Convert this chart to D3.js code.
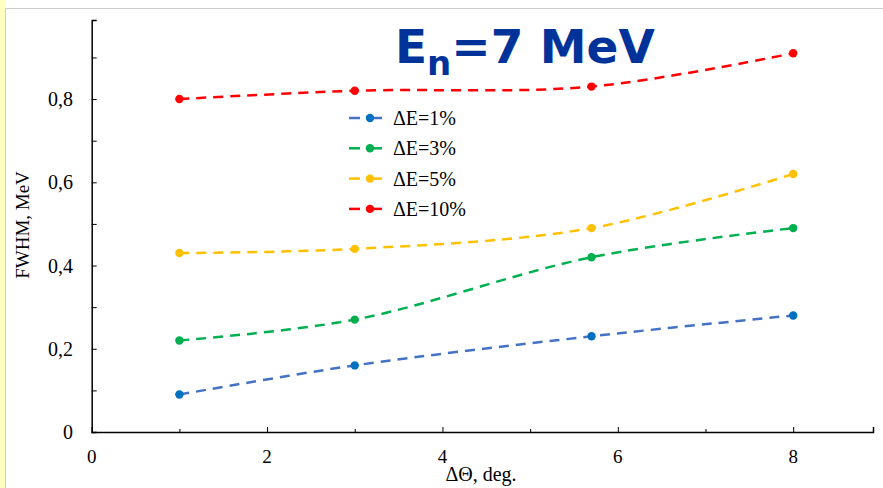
<html>
<script src="https://d3js.org/d3.v7.min.js"></script>
<style>
body { margin: 0; background: #fff; }
text { font-family: "Liberation Serif", "DejaVu Serif", serif; }
</style>
<body>
<svg id="chart" width="883" height="488"></svg>
<script>
// chart data
var angles = [1, 3, 5.7, 8];
var seriesNames = ["ΔE=1%", "ΔE=3%", "ΔE=5%", "ΔE=10%"];
var de1 = [0.09, 0.16, 0.23, 0.28];
var de3 = [0.22, 0.27, 0.42, 0.49];
var de5 = [0.43, 0.44, 0.49, 0.62];
var de10 = [0.80, 0.82, 0.83, 0.91];
var xTicks = [0, 2, 4, 6, 8];
var yTicks = [0, 0.2, 0.4, 0.6, 0.8];

var lineColors = ["#4472c4", "#00b050", "#ffc000", "#ff0000"];
var dotColors = ["#0070c0", "#00b050", "#ffc000", "#ff0000"];

var svg = d3.select("#chart");

// slide frame
svg.append("rect").attr("x", 0).attr("y", 0).attr("width", 5).attr("height", 488).attr("fill", "#ffffc0");
svg.append("line").attr("x1", 5.5).attr("x2", 5.5).attr("y1", 8).attr("y2", 488).attr("stroke", "#ccc");
svg.append("line").attr("x1", 5).attr("x2", 883).attr("y1", 8.5).attr("y2", 8.5).attr("stroke", "#ccc");

var x = d3.scaleLinear().domain([0, 8.91]).range([91.7, 873]);
var y = d3.scaleLinear().domain([0, 0.99]).range([432, 20]);

// axes (ticks inward)
var xAxis = svg.append("g").attr("transform", "translate(0,432)")
  .call(d3.axisTop(x).tickValues([1, 2, 3, 4, 5, 6, 7, 8]).tickSize(5).tickFormat(""));
xAxis.select(".domain").attr("stroke", "#000").attr("stroke-width", 1.5);
xAxis.selectAll(".tick line").attr("stroke", "#000");
xAxis.selectAll(".tick").filter(d => d % 2 == 1).select("line").attr("y2", -3);

var yAxis = svg.append("g").attr("transform", "translate(91.7,0)")
  .call(d3.axisRight(y).tickValues([0.1, 0.2, 0.3, 0.4, 0.5, 0.6, 0.7, 0.8, 0.9]).tickSize(5).tickFormat(""));
yAxis.select(".domain").attr("stroke", "#000").attr("stroke-width", 1.5);
yAxis.selectAll(".tick line").attr("stroke", "#000");

// tick labels
svg.append("g").selectAll("text").data(xTicks).enter().append("text")
  .attr("x", d => x(d)).attr("y", 463).attr("text-anchor", "middle")
  .attr("font-size", 19).attr("fill", "#000").text(d => d);
svg.append("g").selectAll("text").data(yTicks).enter().append("text")
  .attr("x", 73).attr("y", d => y(d) + 7).attr("text-anchor", "end")
  .attr("font-size", 20).attr("fill", "#000").text(d => d == 0 ? "0" : String(d.toFixed(1)).replace(".", ","));

// axis titles
svg.append("text").attr("transform", "translate(29,225) rotate(-90)")
  .attr("text-anchor", "middle").attr("font-size", 19).text("FWHM, MeV");
svg.append("text").attr("x", 481).attr("y", 481)
  .attr("text-anchor", "middle").attr("font-size", 20).text("ΔΘ, deg.");

// series
var allSeries = [de1, de3, de5, de10];
var line = d3.line().x(d => x(d[0])).y(d => y(d[1])).curve(d3.curveCatmullRom.alpha(0.5));

allSeries.forEach(function(vals, i) {
  var pts = angles.map((a, j) => [a, vals[j]]);
  svg.append("path").datum(pts).attr("d", line)
    .attr("fill", "none").attr("stroke", lineColors[i]).attr("stroke-width", 2.5)
    .attr("stroke-dasharray", "10,7");
  svg.append("g").selectAll("circle").data(pts).enter().append("circle")
    .attr("cx", d => x(d[0])).attr("cy", d => y(d[1])).attr("r", 4.2)
    .attr("fill", dotColors[i]);
});

// legend
var legend = svg.append("g");
seriesNames.forEach(function(name, i) {
  var ly = 118 + i * 30.3;
  legend.append("line").attr("x1", 349).attr("x2", 360).attr("y1", ly).attr("y2", ly)
    .attr("stroke", lineColors[i]).attr("stroke-width", 2.5);
  legend.append("line").attr("x1", 366).attr("x2", 382).attr("y1", ly).attr("y2", ly)
    .attr("stroke", lineColors[i]).attr("stroke-width", 2.5);
  legend.append("circle").attr("cx", 370).attr("cy", ly).attr("r", 4.2).attr("fill", dotColors[i]);
  legend.append("text").attr("x", 393).attr("y", ly + 7).attr("font-size", 20).attr("fill", "#000").text(name);
});

// big title
var title = svg.append("text").attr("x", 395).attr("y", 63)
  .style("font-family", "'DejaVu Sans', Verdana, sans-serif").attr("font-weight", "bold")
  .attr("font-size", 47).attr("fill", "#003399");
title.append("tspan").text("E");
title.append("tspan").attr("font-size", 34).attr("dy", 12).text("n");
title.append("tspan").attr("dy", -12).text("=7 MeV");
</script>
</body>
</html>
